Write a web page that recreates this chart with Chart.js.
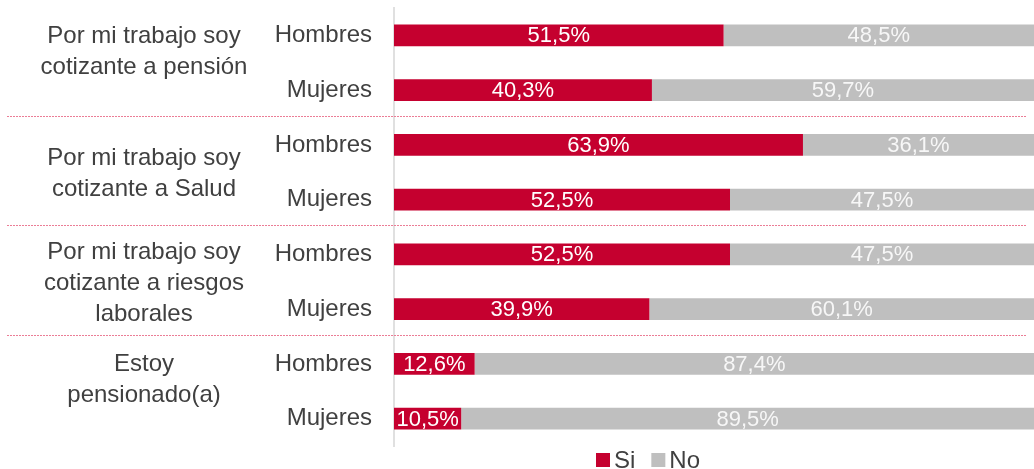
<!DOCTYPE html>
<html>
<head>
<meta charset="utf-8">
<script src="https://cdn.jsdelivr.net/npm/chart.js@4/dist/chart.umd.min.js"></script>
<style>
  html, body { margin: 0; padding: 0; background: #fff; }
</style>
</head>
<body>
<canvas id="chart" width="1034" height="469"></canvas>
<script>
// Data
const groupLabels = [
  ['Por mi trabajo soy', 'cotizante a pensión'],
  ['Por mi trabajo soy', 'cotizante a Salud'],
  ['Por mi trabajo soy', 'cotizante a riesgos', 'laborales'],
  ['Estoy', 'pensionado(a)']
];
const categories = ['Hombres', 'Mujeres', 'Hombres', 'Mujeres', 'Hombres', 'Mujeres', 'Hombres', 'Mujeres'];
const siValues = [51.5, 40.3, 63.9, 52.5, 52.5, 39.9, 12.6, 10.5];
const noValues = [48.5, 59.7, 36.1, 47.5, 47.5, 60.1, 87.4, 89.5];
const seriesNames = ['Si', 'No'];

const RED = '#c5002f';
const GREY = '#bfbfbf';
const TEXT = '#404040';
const FONT = '"Liberation Sans", Arial, sans-serif';

const fmt = v => v.toFixed(1).replace('.', ',') + '%';

const overlay = {
  id: 'overlay',
  afterDatasetsDraw(chart) {
    const ctx = chart.ctx;
    const yScale = chart.scales.y;
    ctx.save();

    // value labels centred in each segment
    ctx.font = '22px ' + FONT;
    ctx.textAlign = 'center';
    ctx.textBaseline = 'middle';
    chart.data.datasets.forEach((ds, i) => {
      const meta = chart.getDatasetMeta(i);
      ctx.fillStyle = i === 0 ? '#ffffff' : '#f7f7f7';
      meta.data.forEach((bar, j) => {
        ctx.fillText(fmt(ds.data[j]), (bar.base + bar.x) / 2, bar.y + 1);
      });
    });

    // dotted separators between groups
    ctx.strokeStyle = '#eb7d96';
    ctx.lineWidth = 1;
    ctx.setLineDash([2, 1]);
    for (let g = 1; g < groupLabels.length; g++) {
      const y = Math.round((yScale.getPixelForValue(2 * g - 1) + yScale.getPixelForValue(2 * g)) / 2) - 1.5;
      ctx.beginPath();
      ctx.moveTo(7, y);
      ctx.lineTo(1026, y);
      ctx.stroke();
    }
    ctx.setLineDash([]);

    // group labels (first level categories)
    const offsets = [-11, 2, 2, -11];
    ctx.font = '24px ' + FONT;
    ctx.fillStyle = TEXT;
    ctx.textAlign = 'center';
    groupLabels.forEach((lines, g) => {
      const mid = (yScale.getPixelForValue(2 * g) + yScale.getPixelForValue(2 * g + 1)) / 2 + offsets[g];
      lines.forEach((line, k) => {
        ctx.fillText(line, 144, mid + (k - (lines.length - 1) / 2) * 31);
      });
    });

    // legend
    let x = 596;
    ctx.textAlign = 'left';
    chart.data.datasets.forEach(ds => {
      ctx.fillStyle = ds.backgroundColor;
      ctx.fillRect(x, 453, 14, 14);
      ctx.fillStyle = TEXT;
      ctx.fillText(ds.label, x + 18, 461);
      x += 18 + ctx.measureText(ds.label).width + 16;
    });

    ctx.restore();
  }
};

new Chart(document.getElementById('chart'), {
  type: 'bar',
  data: {
    labels: categories,
    datasets: [
      { label: seriesNames[0], data: siValues, backgroundColor: RED },
      { label: seriesNames[1], data: noValues, backgroundColor: GREY }
    ]
  },
  options: {
    indexAxis: 'y',
    responsive: false,
    animation: false,
    barPercentage: 0.8,
    categoryPercentage: 0.5,
    layout: { padding: { top: 8, bottom: 23, left: 0, right: -4 } },
    plugins: {
      legend: { display: false },
      tooltip: { enabled: false }
    },
    scales: {
      x: { stacked: true, min: 0, max: 100, display: false },
      y: {
        stacked: true,
        grid: { display: false, drawTicks: false },
        border: { display: true, color: '#e0e0e0', width: 2 },
        ticks: { color: TEXT, font: { size: 24, family: FONT }, padding: 22 },
        afterFit: s => {
          s.width = 394;
          s.paddingTop = 0;
          s.paddingBottom = 0;
        }
      }
    }
  },
  plugins: [overlay]
});
</script>
</body>
</html>
